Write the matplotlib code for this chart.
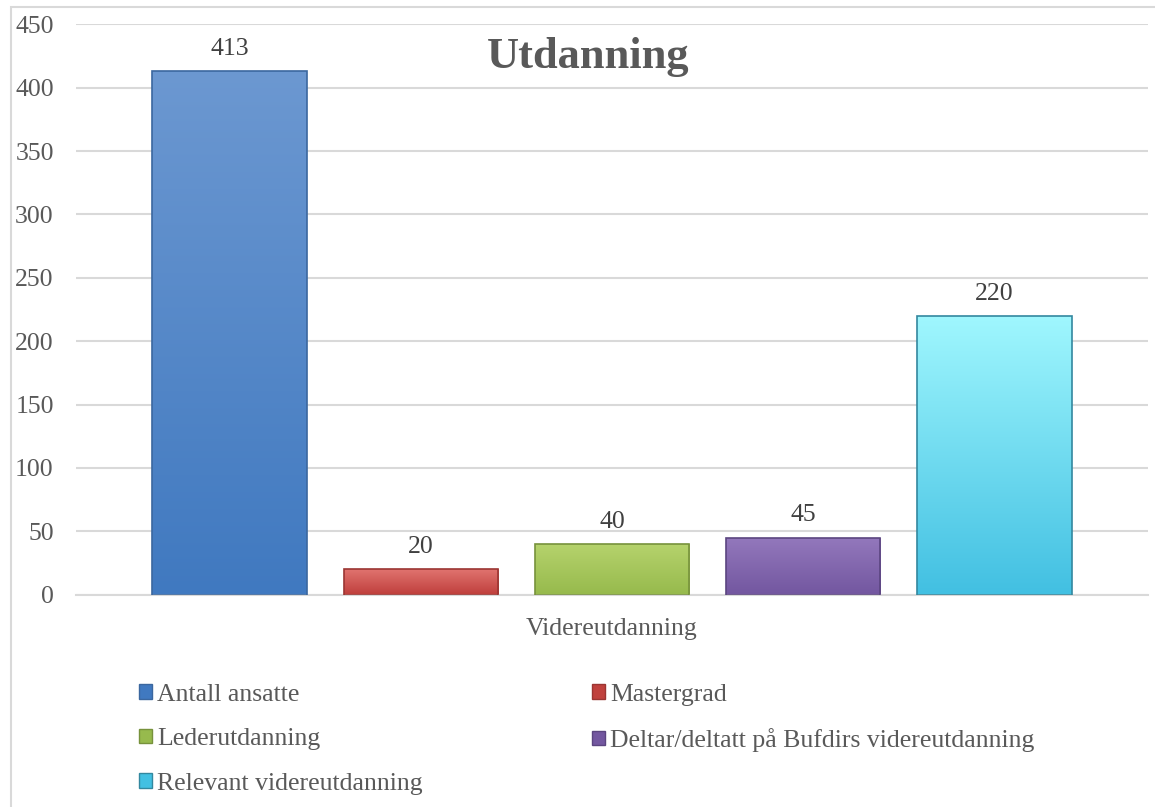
import numpy as np
import matplotlib.pyplot as plt
from matplotlib.patches import Rectangle, Patch
from matplotlib.colors import LinearSegmentedColormap

# Data
series = ['Antall ansatte', 'Mastergrad', 'Lederutdanning',
          'Deltar/deltatt på Bufdirs videreutdanning', 'Relevant videreutdanning']
values = [413, 20, 40, 45, 220]
category = 'Videreutdanning'
yticks = [0, 50, 100, 150, 200, 250, 300, 350, 400, 450]

# top colour, bottom colour, edge colour per series
top_colors = ['#6c98d1', '#e27572', '#b6d36d', '#9479bd', '#a0f7fe']
bottom_colors = ['#4079c0', '#c0413d', '#97ba4d', '#7357a0', '#42c0e2']
edge_colors = ['#3b679f', '#9b3532', '#77923c', '#5b4580', '#33889f']

plt.rcParams['font.family'] = ['Liberation Serif', 'DejaVu Serif']
FS = 18.5

W, H = 1155, 807
fig = plt.figure(figsize=(W / 100, H / 100), dpi=100)
ax = fig.add_axes([76 / W, 1 - 594.5 / H, (1148 - 76) / W, (594.5 - 24.5) / H])

x = np.arange(len(values))
width = 0.81
bars = ax.bar(x, values, width, color='none', edgecolor='none', zorder=3)

grad = np.linspace(0, 1, 256).reshape(-1, 1)
for i, b in enumerate(bars):
    cmap = LinearSegmentedColormap.from_list('g%d' % i, [bottom_colors[i], top_colors[i]])
    x0, w, h = b.get_x(), b.get_width(), b.get_height()
    im = ax.imshow(grad, cmap=cmap, extent=[x0, x0 + w, 0, h], origin='lower',
                   aspect='auto', zorder=3)
    clip = Rectangle((x0, 0), w, h, transform=ax.transData, facecolor='none')
    im.set_clip_path(clip)
    ax.add_patch(Rectangle((x0, 0), w, h, facecolor='none',
                           edgecolor=edge_colors[i], lw=1.2, zorder=4))
    ax.annotate(str(values[i]), (x[i], h), xytext=(0, 8), textcoords='offset points',
                ha='center', va='bottom', fontsize=FS, color='#404040')

ax.set_xlim(-0.805, len(values) - 1 + 0.805)
ax.set_ylim(0, 450)
ax.set_yticks(yticks)
ax.set_xticks([2])
ax.set_xticklabels([category])
ax.tick_params(axis='y', length=0, pad=16, labelsize=FS, labelcolor='#595959')
ax.tick_params(axis='x', length=0, pad=17, labelsize=FS, labelcolor='#595959')
ax.grid(axis='y', color='#d9d9d9', lw=1.5, zorder=0)
ax.set_axisbelow(True)
for s in ['top', 'right', 'left']:
    ax.spines[s].set_visible(False)
ax.spines['bottom'].set_color('#d9d9d9')
ax.spines['bottom'].set_linewidth(1.5)

# outer chart frame (cut off at right and bottom)
fig.patches.append(Rectangle((11 / W, -0.1), 1.2, 1 - 7 / H + 0.1, transform=fig.transFigure,
                             facecolor='none', edgecolor='#d9d9d9', lw=1.5, zorder=0))

fig.text(588 / W, 1 - 68 / H, 'Utdanning', ha='center', va='baseline',
         fontsize=32, fontweight='bold', color='#595959')

# legend, row-major order
order = [0, 2, 4, 1, 3]
handles = [Patch(facecolor=bottom_colors[i], edgecolor=edge_colors[i]) for i in order]
labels = [series[i] for i in order]
leg = fig.legend(handles, labels, loc='upper left', bbox_to_anchor=(126 / W, 1 - 671 / H),
                 ncol=2, frameon=False, fontsize=FS, borderpad=0, handlelength=0.5,
                 handleheight=0.5, handletextpad=0.2, columnspacing=6.6, labelspacing=0.87)
for t in leg.get_texts():
    t.set_color('#595959')

fig.savefig('out.png', dpi=100)
